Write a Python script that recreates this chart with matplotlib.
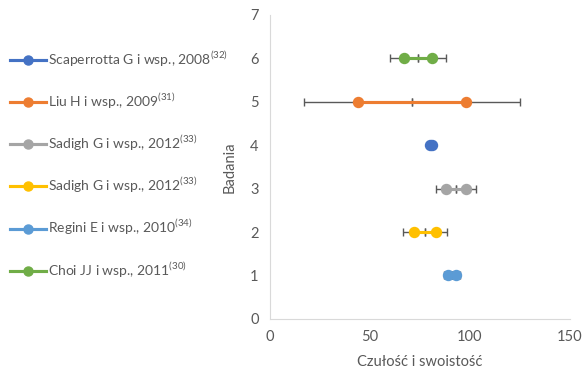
import matplotlib.pyplot as plt
from matplotlib.lines import Line2D

plt.rcParams['font.family'] = ['Lato', 'DejaVu Sans']
plt.rcParams['mathtext.fontset'] = 'custom'
plt.rcParams['mathtext.rm'] = 'Lato'

# studies: name, reference number, colour
studies = ['Scaperrotta G i wsp., 2008', 'Liu H i wsp., 2009', 'Sadigh G i wsp., 2012',
           'Sadigh G i wsp., 2012', 'Regini E i wsp., 2010', 'Choi JJ i wsp., 2011']
refs = ['32', '31', '33', '33', '34', '30']
colors = ['#4472C4', '#ED7D31', '#A5A5A5', '#FFC000', '#5B9BD5', '#70AD47']
# position on the "Badania" axis
rows = [4, 5, 3, 2, 1, 6]
# sensitivity / specificity pairs and error bar half-width
sens = [80, 44, 88, 72, 89, 67]
spec = [81, 98, 98, 83, 93, 81]
err = [0.5, 27, 5, 5.5, 2, 7]

fig = plt.figure(figsize=(5.84, 3.70), dpi=100)
ax = fig.add_axes([0.462, 0.138, 0.514, 0.822])

handles = []
for i in range(len(studies)):
    xs = [sens[i], spec[i]]
    ys = [rows[i], rows[i]]
    ax.errorbar(xs, ys, xerr=err[i], fmt='none', ecolor='#595959', elinewidth=1,
                capsize=3, capthick=1, zorder=2)
    ax.plot(xs, ys, color=colors[i], lw=2.25, marker='o', markersize=7.2, zorder=3)
    handles.append(Line2D([], [], color=colors[i], lw=2.25, marker='o', markersize=6.5))

labels = [s + r'$^{\mathregular{(' + r + ')}}$' for s, r in zip(studies, refs)]

ax.set_xlim(0, 150)
ax.set_ylim(0, 7)
ax.set_xticks([0, 50, 100, 150])
ax.set_yticks(range(8))
for side in ['top', 'right']:
    ax.spines[side].set_visible(False)
for side in ['left', 'bottom']:
    ax.spines[side].set_color('#D9D9D9')
ax.tick_params(length=0, labelsize=10.5, labelcolor='#595959', pad=8)
ax.set_xlabel('Czułość i swoistość', fontsize=10.5, color='#595959', labelpad=8)
ax.set_ylabel('Badania', fontsize=10.5, color='#595959', labelpad=10)

fig.legend(handles, labels, loc='upper left', bbox_to_anchor=(0.008, 0.882),
           frameon=False, fontsize=10, labelcolor='#595959', handlelength=2.6,
           handletextpad=0.1, labelspacing=1.65, borderaxespad=0)

fig.savefig('out.png', dpi=100)
